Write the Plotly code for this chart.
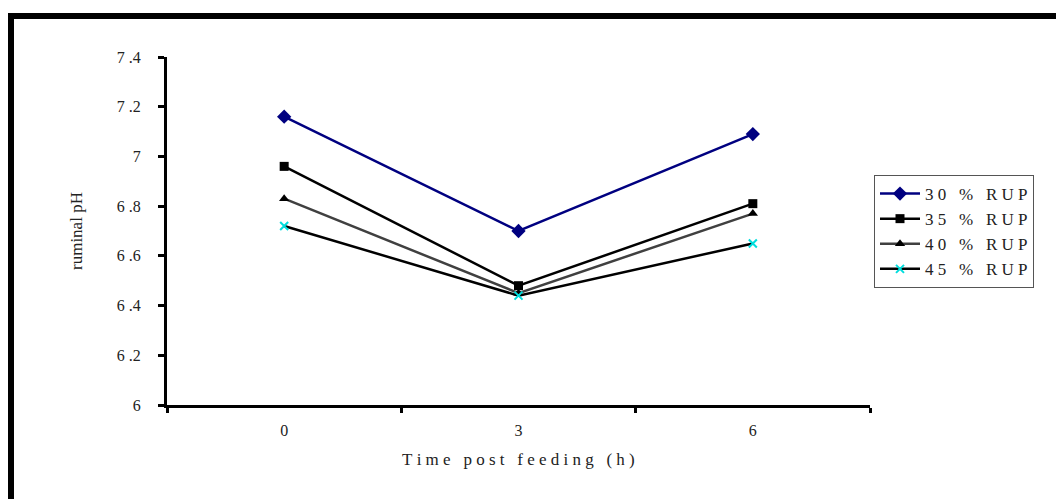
import plotly.graph_objects as go

categories = ["0", "3", "6"]
rup30 = [7.16, 6.70, 7.09]
rup35 = [6.96, 6.48, 6.81]
rup40 = [6.83, 6.45, 6.77]
rup45 = [6.72, 6.44, 6.65]
series_names = ["30 % RUP", "35 % RUP", "40 % RUP", "45 % RUP"]
ytick_vals = [6, 6.2, 6.4, 6.6, 6.8, 7, 7.2, 7.4]
ytick_text = ["6", "6.2", "6.4", "6.6", "6.8", "7", "7.2", "7.4"]
x_title = "Time post feeding (h)"
y_title = "ruminal pH"

NB = "\u00a0"


def spaced(s, gap=1):
    """Mimic the wide letter spacing of the reference with no-break spaces."""
    out = []
    for ch in s:
        if ch == " ":
            out.append(NB * (gap + 1))
        else:
            out.append(ch + NB * gap)
    return "".join(out).rstrip(NB)


FONT = "Liberation Serif"
fig = go.Figure()

fig.add_trace(go.Scatter(x=categories, y=rup30, name=spaced(series_names[0]), mode="lines+markers",
                         line=dict(color="#000080", width=2.5),
                         marker=dict(symbol="diamond", size=11, color="#000080")))
fig.add_trace(go.Scatter(x=categories, y=rup35, name=spaced(series_names[1]), mode="lines+markers",
                         line=dict(color="#000000", width=2.5),
                         marker=dict(symbol="square", size=9, color="#000000")))
fig.add_trace(go.Scatter(x=categories, y=rup40, name=spaced(series_names[2]), mode="lines+markers",
                         line=dict(color="#404040", width=2.5),
                         marker=dict(symbol="triangle-up", size=9, color="#000000")))
fig.add_trace(go.Scatter(x=categories, y=rup45, name=spaced(series_names[3]), mode="lines+markers",
                         line=dict(color="#000000", width=2.5),
                         marker=dict(symbol="x-thin", size=8, color="#00FFFF",
                                     line=dict(color="#00DDDD", width=2))))

L, R, T, B = 167, 870, 57, 405
W, H = 1056, 499
pw, ph = R - L, B - T


def px(x):
    return (x - L) / pw


def py(y):
    return (B - y) / ph


TXT = "#222222"
fig.update_layout(
    width=W, height=H,
    margin=dict(l=L, r=W - R, t=T, b=H - B),
    paper_bgcolor="white", plot_bgcolor="white",
    font=dict(family=FONT, size=16, color=TXT),
    showlegend=True,
    legend=dict(x=px(874), y=py(175), xanchor="left", yanchor="top",
                bordercolor="#555555", borderwidth=1, bgcolor="white",
                font=dict(family=FONT, size=17, color=TXT),
                tracegroupgap=0, itemwidth=40),
    xaxis=dict(type="category", range=[-0.5, 2.5], showgrid=False, zeroline=False,
               showline=True, linecolor="black", linewidth=3,
               ticks="outside", tickson="boundaries", ticklen=5, tickwidth=3, tickcolor="black",
               ticklabelstandoff=9, tickfont=dict(family=FONT, size=16, color=TXT)),
    yaxis=dict(range=[6, 7.4], showgrid=False, zeroline=False,
               showline=True, linecolor="black", linewidth=3,
               ticks="outside", ticklen=6, tickwidth=3, tickcolor="black",
               tickvals=ytick_vals, ticktext=[t.replace(".", NB + ".") for t in ytick_text],
               ticklabelstandoff=14, tickfont=dict(family=FONT, size=16, color=TXT)),
    shapes=[dict(type="rect", xref="paper", yref="paper",
                 x0=px(11), y0=py(2000), x1=px(3000), y1=py(16),
                 line=dict(color="black", width=6), fillcolor="rgba(0,0,0,0)", layer="below")],
    annotations=[
        dict(text=y_title, xref="paper", yref="paper", x=px(76), y=0.5,
             xanchor="center", yanchor="middle",
             showarrow=False, textangle=-90, font=dict(family=FONT, size=17, color=TXT)),
        dict(text=spaced(x_title), xref="paper", yref="paper",
             x=0.5, y=py(459), xanchor="center", yanchor="middle", showarrow=False,
             font=dict(family=FONT, size=17, color=TXT)),
    ],
)

fig.write_html("out.html")
